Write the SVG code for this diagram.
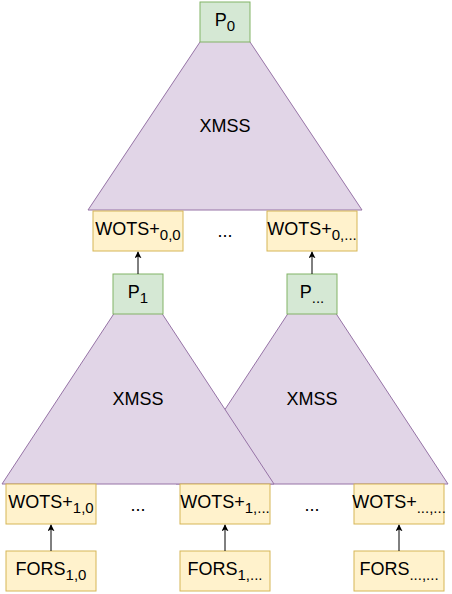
<svg xmlns="http://www.w3.org/2000/svg" width="452" height="594" viewBox="0 0 452 594">
<defs>
<style>
.tri{fill:#e1d5e7;stroke:#9673a6;stroke-width:1}
.g{fill:#d5e8d4;stroke:#82b366;stroke-width:1}
.y{fill:#fff2cc;stroke:#d6b656;stroke-width:1}
text{font-family:"Liberation Sans",Arial,Helvetica,sans-serif;font-size:18px;fill:#000;text-anchor:middle}
.s{font-size:15px}
.e{stroke:#000;stroke-width:1;fill:none;marker-end:url(#ah)}
</style>
<marker id="ah" viewBox="0 0 10 10" refX="9" refY="5" markerWidth="7" markerHeight="7" markerUnits="userSpaceOnUse" orient="auto">
<path d="M0,0 L10,5 L0,10 L2.5,5 Z" fill="#000"/>
</marker>
</defs>
<g id="xmss-top"><polygon class="tri" points="225,4.5 362,210 88,210"/><text x="225" y="132">XMSS</text></g>
<g id="p0"><rect class="g" x="200" y="2" width="50" height="40"/><text x="225" y="26">P<tspan class="s" dy="4.5">0</tspan></text></g>
<g id="wots-0-0"><rect class="y" x="93" y="211" width="90" height="40"/><text x="138" y="235">WOTS+<tspan class="s" dy="4.5">0,0</tspan></text></g>
<g id="dots-top"><text x="225" y="237">...</text></g>
<g id="wots-0-n"><rect class="y" x="267" y="211" width="90" height="40"/><text x="312" y="235">WOTS+<tspan class="s" dy="4.5">0,...</tspan></text></g>
<g id="xmss-right"><polygon class="tri" points="312,277 448,484 176,484"/><text x="312" y="405">XMSS</text></g>
<g id="xmss-left"><polygon class="tri" points="138,277 274,484 2,484"/><text x="138" y="405">XMSS</text></g>
<g id="p1"><rect class="g" x="113" y="274" width="50" height="40"/><text x="138" y="298">P<tspan class="s" dy="4.5">1</tspan></text></g>
<g id="pn"><rect class="g" x="287" y="274" width="50" height="40"/><text x="312" y="298">P<tspan class="s" dy="4.5">...</tspan></text></g>
<g id="wots-1-0"><rect class="y" x="6" y="484" width="90" height="40"/><text x="51" y="508">WOTS+<tspan class="s" dy="4.5">1,0</tspan></text></g>
<g id="dots-1"><text x="138" y="511">...</text></g>
<g id="wots-1-n"><rect class="y" x="180" y="484" width="90" height="40"/><text x="225" y="508">WOTS+<tspan class="s" dy="4.5">1,...</tspan></text></g>
<g id="dots-2"><text x="312" y="511">...</text></g>
<g id="wots-n-n"><rect class="y" x="354" y="484" width="90" height="40"/><text x="399" y="508">WOTS+<tspan class="s" dy="4.5">...,...</tspan></text></g>
<g id="fors-1-0"><rect class="y" x="6" y="551" width="90" height="40"/><text x="51" y="575">FORS<tspan class="s" dy="4.5">1,0</tspan></text></g>
<g id="fors-1-n"><rect class="y" x="180" y="551" width="90" height="40"/><text x="225" y="575">FORS<tspan class="s" dy="4.5">1,...</tspan></text></g>
<g id="fors-n-n"><rect class="y" x="354" y="551" width="90" height="40"/><text x="399" y="575">FORS<tspan class="s" dy="4.5">...,...</tspan></text></g>
<g id="connectors">
<line class="e" x1="138" y1="274" x2="138" y2="252"/>
<line class="e" x1="312" y1="274" x2="312" y2="252"/>
<line class="e" x1="51" y1="551" x2="51" y2="525"/>
<line class="e" x1="225" y1="551" x2="225" y2="525"/>
<line class="e" x1="399" y1="551" x2="399" y2="525"/>
</g>
</svg>
